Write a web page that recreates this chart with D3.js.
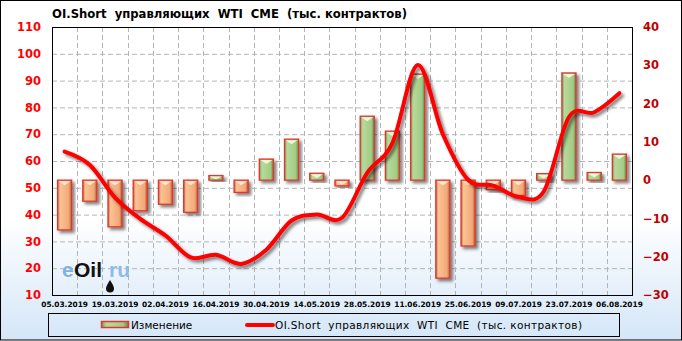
<!DOCTYPE html>
<meta charset="utf-8">
<head>
    <title>OI.Short WTI CME</title>
    <script src="https://d3js.org/d3.v7.min.js"></script>
    <style>
        body { margin: 0; background: #ffffff; }
        text { font-family: "DejaVu Sans", Verdana, sans-serif; white-space: pre; }
    </style>
</head>
<body>
<div id="my_dataviz"></div>
<script>

// data
var dates = ["05.03.2019","12.03.2019","19.03.2019","26.03.2019","02.04.2019","09.04.2019",
             "16.04.2019","23.04.2019","30.04.2019","07.05.2019","14.05.2019","21.05.2019",
             "28.05.2019","04.06.2019","11.06.2019","18.06.2019","25.06.2019","02.07.2019",
             "09.07.2019","16.07.2019","23.07.2019","30.07.2019","06.08.2019"];
var xLabels = ["05.03.2019","19.03.2019","02.04.2019","16.04.2019","30.04.2019","14.05.2019",
               "28.05.2019","11.06.2019","25.06.2019","09.07.2019","23.07.2019","06.08.2019"];
var shortVals = [63.5, 58.5, 46.3, 38.4, 32.2, 24.0, 25.0, 21.6, 26.9, 37.8, 40.0, 38.8,
                 55.6, 66.7, 95.8, 70.0, 53.0, 50.8, 46.6, 48.6, 76.4, 78.2, 85.3];
var changeVals = [-13.0, -5.5, -12.2, -8.0, -6.3, -8.4, 1.2, -3.2, 5.5, 10.7, 1.8, -1.5,
                  16.7, 12.8, 27.7, -25.6, -17.2, -2.5, -4.0, 1.7, 28.0, 2.0, 6.8];
var leftTicks = [10, 20, 30, 40, 50, 60, 70, 80, 90, 100, 110];
var rightTicks = [-30, -20, -10, 0, 10, 20, 30, 40];
var titleText = "OI.Short  управляющих  WTI  CME  (тыс. контрактов)";
var barName = "Изменение";

// dimensions
var W = 682, H = 341;
var margin = {top: 27, right: 50, bottom: 46, left: 52},
    width = W - margin.left - margin.right,
    height = H - margin.top - margin.bottom;

var svg = d3.select("#my_dataviz")
    .append("svg")
    .attr("width", W)
    .attr("height", H);

var defs = svg.append("defs");

// background gradient
var bg = defs.append("linearGradient").attr("id", "bgGrad")
    .attr("x1", 0).attr("y1", 0).attr("x2", 0).attr("y2", 1);
bg.append("stop").attr("offset", "0%").attr("stop-color", "#ffffff");
bg.append("stop").attr("offset", "64%").attr("stop-color", "#ffffff");
bg.append("stop").attr("offset", "100%").attr("stop-color", "#d4e6f8");

// bar gradients
function barGrad(id, c0, c1, c2, c3) {
    var g = defs.append("linearGradient").attr("id", id)
        .attr("x1", 0).attr("y1", 0).attr("x2", 1).attr("y2", 0);
    g.append("stop").attr("offset", "0%").attr("stop-color", c0);
    g.append("stop").attr("offset", "18%").attr("stop-color", c1);
    g.append("stop").attr("offset", "80%").attr("stop-color", c2);
    g.append("stop").attr("offset", "100%").attr("stop-color", c3);
}
barGrad("posGrad", "#6f9a52", "#b7da9c", "#a2cb84", "#5f8844");
barGrad("negGrad", "#b8704a", "#fbc395", "#f2a877", "#a85e38");

// shadows
defs.append("filter").attr("id", "shadow")
    .attr("x", "-30%").attr("y", "-30%").attr("width", "160%").attr("height", "160%")
    .append("feDropShadow")
    .attr("dx", 2.5).attr("dy", 2.5).attr("stdDeviation", 1.8)
    .attr("flood-color", "#000").attr("flood-opacity", 0.5);

svg.append("rect")
    .attr("x", 0.5).attr("y", 0.5)
    .attr("width", W - 1).attr("height", H - 1.5)
    .attr("fill", "url(#bgGrad)")
    .attr("stroke", "#000");

// title
svg.append("text")
    .attr("x", 52).attr("y", 18)
    .text(titleText)
    .style("font-size", "11.7px").style("font-weight", "bold")
    .attr("textLength", 355).attr("lengthAdjust", "spacingAndGlyphs")
    .attr("fill", "#000");

// scales
var x = d3.scaleBand()
    .domain(dates)
    .range([margin.left, margin.left + width]);
var yL = d3.scaleLinear()
    .domain([10, 110])
    .range([margin.top + height, margin.top]);
var yR = d3.scaleLinear()
    .domain([-30, 40])
    .range([margin.top + height, margin.top]);

// grid
var grid = svg.append("g").attr("stroke", "#b4b4b4").attr("stroke-dasharray", "5,3");
grid.selectAll(".hg")
    .data(leftTicks.slice(1, -1))
    .enter().append("line")
    .attr("x1", margin.left).attr("x2", margin.left + width)
    .attr("y1", function(d) { return yL(d) + 0.5; })
    .attr("y2", function(d) { return yL(d) + 0.5; });
grid.selectAll(".vg")
    .data(dates.slice(1))
    .enter().append("line")
    .attr("x1", function(d) { return Math.round(x(d)) + 0.5; })
    .attr("x2", function(d) { return Math.round(x(d)) + 0.5; })
    .attr("y1", margin.top).attr("y2", margin.top + height);

// watermark
svg.append("text")
    .attr("x", 62).attr("y", 277)
    .text("e")
    .style("font-family", "'Liberation Sans', Arial, sans-serif")
    .style("font-size", "21px").style("font-weight", "bold")
    .attr("fill", "#80b2de");
svg.append("text")
    .attr("x", 74).attr("y", 277)
    .text("Oil")
    .style("font-family", "'Liberation Sans', Arial, sans-serif")
    .style("font-size", "21px").style("font-weight", "bold")
    .attr("fill", "#111");
svg.append("text")
    .attr("x", 109).attr("y", 277)
    .text("ru")
    .style("font-family", "'Liberation Sans', Arial, sans-serif")
    .style("font-size", "21px").style("font-weight", "bold")
    .attr("fill", "#8dbde6");
svg.append("path")
    .attr("d", "M110,280 C107.5,284 106,286.5 106,288.5 a4,4 0 0 0 8,0 C114,286.5 112.5,284 110,280 Z")
    .attr("fill", "#111");

// bars
var bw = x.bandwidth() * 0.56;
var bars = svg.append("g");
bars.selectAll("rect")
    .data(changeVals)
    .enter().append("rect")
    .attr("x", function(d, i) { return x(dates[i]) + (x.bandwidth() - bw) / 2; })
    .attr("y", function(d) { return yR(Math.max(0, d)); })
    .attr("width", bw)
    .attr("height", function(d) { return Math.abs(yR(d) - yR(0)); })
    .attr("fill", function(d) { return d >= 0 ? "url(#posGrad)" : "url(#negGrad)"; })
    .attr("stroke", "#e3362c")
    .attr("stroke-width", 1.3)
    .attr("filter", "url(#shadow)");
// top bevel highlight
bars.selectAll("path")
    .data(changeVals)
    .enter().append("path")
    .attr("d", function(d, i) {
        var x0 = x(dates[i]) + (x.bandwidth() - bw) / 2 + 1,
            x1 = x0 + bw - 2,
            y0 = yR(Math.max(0, d)) + 1,
            h = Math.min(4, Math.abs(yR(d) - yR(0)) - 2);
        return "M" + x0 + "," + y0 + "L" + x1 + "," + y0 + "L" + ((x0 + x1) / 2) + "," + (y0 + h) + "Z";
    })
    .attr("fill", function(d) { return d >= 0 ? "#eaf6dc" : "#fde6cf"; });

// line
svg.append("path")
    .datum(shortVals)
    .attr("fill", "none")
    .attr("stroke", "#ff0000")
    .attr("stroke-width", 4)
    .attr("stroke-linecap", "round")
    .attr("stroke-linejoin", "round")
    .attr("filter", "url(#shadow)")
    .attr("d", d3.line()
        .x(function(d, i) { return x(dates[i]) + x.bandwidth() / 2; })
        .y(function(d) { return yL(d); })
        .curve(d3.curveCardinal.tension(0))
    );

// plot frame
svg.append("rect")
    .attr("x", margin.left + 0.5).attr("y", margin.top + 0.5)
    .attr("width", width).attr("height", height)
    .attr("fill", "none").attr("stroke", "#000");

// Add left axis
var gl = svg.append("g")
    .attr("transform", "translate(" + margin.left + ",0)")
    .call(d3.axisLeft(yL).tickValues(leftTicks).tickSize(0).tickPadding(11));
gl.select(".domain").remove();
gl.selectAll("text")
    .style("font-family", "'DejaVu Sans', Verdana, sans-serif")
    .style("font-size", "11.5px").style("font-weight", "bold")
    .attr("fill", "#ff0000");

// Add right axis
var gr = svg.append("g")
    .attr("transform", "translate(" + (margin.left + width) + ",0)")
    .call(d3.axisRight(yR).tickValues(rightTicks).tickSize(0).tickPadding(11));
gr.select(".domain").remove();
gr.selectAll("text")
    .style("font-family", "'DejaVu Sans', Verdana, sans-serif")
    .style("font-size", "11.5px").style("font-weight", "bold")
    .attr("fill", "#c00000");

// Add X axis
var gx = svg.append("g")
    .attr("transform", "translate(0," + (margin.top + height) + ")")
    .call(d3.axisBottom(x).tickValues(xLabels).tickSize(0).tickPadding(7));
gx.select(".domain").remove();
gx.selectAll("text")
    .style("font-family", "'DejaVu Sans', Verdana, sans-serif")
    .style("font-size", "7.4px").style("font-weight", "bold")
    .attr("fill", "#000");

// legend
svg.append("rect")
    .attr("x", 48.5).attr("y", 313.5)
    .attr("width", 571).attr("height", 23)
    .attr("fill", "none").attr("stroke", "#000");
svg.append("rect")
    .attr("x", 101.5).attr("y", 321.5)
    .attr("width", 27).attr("height", 6)
    .attr("fill", "url(#posGrad)")
    .attr("stroke", "#e3362c").attr("stroke-width", 1.5);
svg.append("text")
    .attr("x", 131).attr("y", 329)
    .text(barName)
    .style("font-size", "10.5px").attr("fill", "#000");
svg.append("line")
    .attr("x1", 247).attr("x2", 273)
    .attr("y1", 325).attr("y2", 325)
    .attr("stroke", "#ff0000").attr("stroke-width", 4)
    .attr("stroke-linecap", "round");
svg.append("text")
    .attr("x", 275).attr("y", 329)
    .text(titleText)
    .style("font-size", "10.5px").attr("fill", "#000")
    .attr("textLength", 307).attr("lengthAdjust", "spacing");

</script>
</body>
</html>
